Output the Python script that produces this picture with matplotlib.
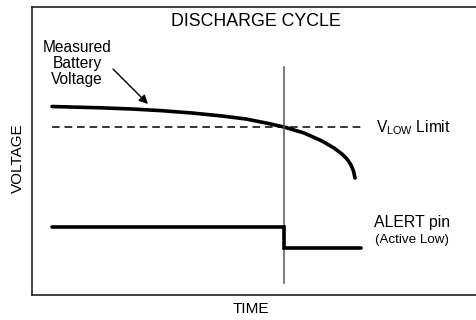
import numpy as np
import matplotlib
matplotlib.use("Agg")
import matplotlib.pyplot as plt

plt.rcParams['font.family'] = ['Liberation Sans', 'DejaVu Sans']
plt.rcParams['mathtext.fontset'] = 'custom'
plt.rcParams['mathtext.rm'] = 'Liberation Sans'

# battery voltage during discharge (arbitrary time / voltage units)
batt_time = [20, 68, 100, 130, 160, 190, 214, 234, 252, 272, 290, 302, 310, 315, 319, 321.5, 323]
batt_volt = [188.5, 187.2, 186, 184.3, 182, 179, 176, 172, 168, 162, 154, 147, 141, 136, 130, 124, 117]

v_low = 168
dash_span = [20, 332]

# ALERT pin (active low), steps down when voltage crosses V_LOW
alert_time = [20, 252, 252, 329]
alert_level = [68, 68, 47, 47]

cross_time = 252
marker_span = [12, 228]

fig = plt.figure(figsize=(4.76, 3.20), dpi=100)
ax = fig.add_axes([32 / 476, 25 / 320, 444 / 476, 288 / 320])
ax.set_xlim(0, 444)
ax.set_ylim(0, 288)
ax.set_xticks([])
ax.set_yticks([])
for side in ['left', 'top', 'bottom']:
    ax.spines[side].set_linewidth(1.2)
    ax.spines[side].set_color('#222222')
ax.spines['right'].set_visible(False)

ax.plot(batt_time, batt_volt, color='black', lw=2.6,
        solid_capstyle='round', solid_joinstyle='round')
ax.plot(dash_span, [v_low, v_low], color='black', lw=1.1, dashes=(5, 3.2))
ax.plot([cross_time, cross_time], marker_span, color='#555555', lw=1.1)
ax.plot(alert_time, alert_level, color='black', lw=2.6,
        solid_capstyle='round', solid_joinstyle='miter')

ax.text(224, 273.5, 'DISCHARGE CYCLE', ha='center', va='center', fontsize=12.8)
ax.text(45, 231.5, 'Measured\nBattery\nVoltage', ha='center', va='center',
        multialignment='center', fontsize=11.2, linespacing=1.05)
ax.annotate('', xy=(116, 191), xytext=(81, 226),
            arrowprops=dict(arrowstyle='-|>', color='black', lw=1.0,
                            mutation_scale=13, shrinkA=0, shrinkB=0))
ax.text(344, 167, r'V$_{\mathrm{LOW}}$ Limit', ha='left', va='center', fontsize=11.2)
ax.text(342, 73, 'ALERT pin', ha='left', va='center', fontsize=11.4)
ax.text(343, 55, '(Active Low)', ha='left', va='center', fontsize=9.6)

fig.text(251 / 476, 1 - 309 / 320, 'TIME', ha='center', va='center', fontsize=11)
fig.text(18 / 476, 1 - 158 / 320, 'VOLTAGE', ha='center', va='center',
         rotation=90, fontsize=11)

fig.savefig('out.png', dpi=100)
